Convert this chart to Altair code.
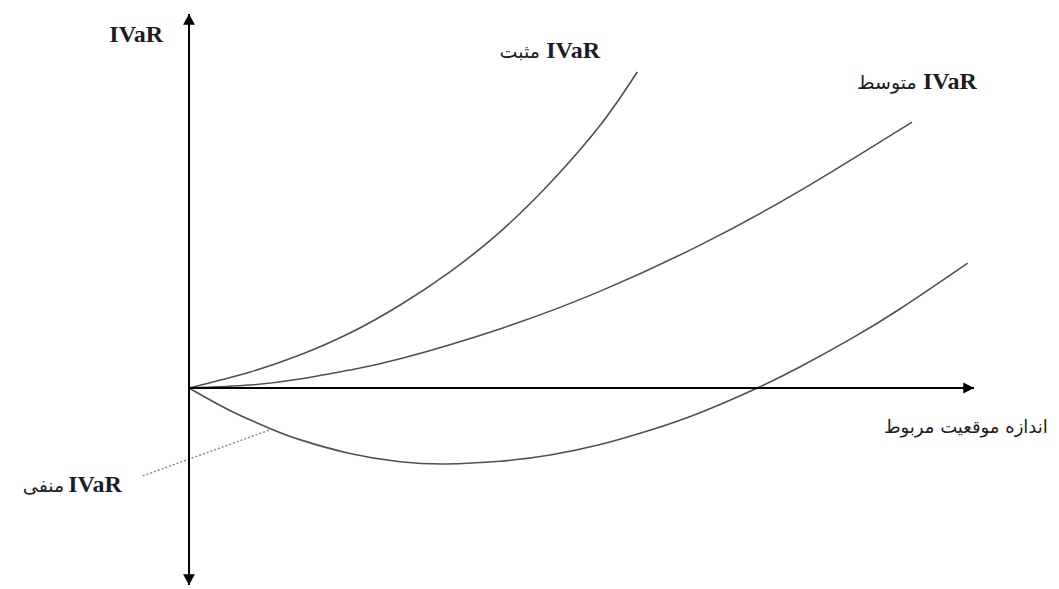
import altair as alt
import pandas as pd

# ---- curve data (x = relevant position size, y = IVaR) ----
pos_x = [0, 0.78, 1.41, 2.05, 2.69, 3.32, 3.96, 4.60, 5.24, 5.71]
pos_y = [0, 0.43, 0.88, 1.47, 2.22, 3.10, 4.17, 5.48, 7.03, 8.45]

avg_x = [0, 0.78, 1.41, 2.05, 2.69, 3.96, 5.24, 6.51, 7.78, 9.21]
avg_y = [0, 0.08, 0.24, 0.48, 0.78, 1.58, 2.59, 3.82, 5.27, 7.11]

neg_x = [0, 0.52, 1.03, 1.41, 2.05, 2.69, 3.26, 3.96, 4.60, 5.24, 5.87, 6.51, 7.24, 7.78, 8.42, 9.06, 9.92]
neg_y = [0, -0.60, -1.08, -1.38, -1.75, -1.97, -2.03, -1.96, -1.79, -1.51, -1.13, -0.66, 0, 0.56, 1.30, 2.12, 3.34]

# leader (dotted) line for the negative label
lead_x = [-0.59, 1.03]
lead_y = [-2.35, -1.12]

# labels
bold_word = "IVaR"
pos_word = "مثبت"
avg_word = "متوسط"
neg_word = "منفی"
x_title = "اندازه موقعیت مربوط"

X_DOMAIN = [-2.306, 10.981]
Y_DOMAIN = [-5.374, 10.160]
xs = alt.Scale(domain=X_DOMAIN, nice=False, zero=False)
ys = alt.Scale(domain=Y_DOMAIN, nice=False, zero=False)

def X(f="x"):
    return alt.X(f"{f}:Q", scale=xs, axis=None)

def Y(f="y"):
    return alt.Y(f"{f}:Q", scale=ys, axis=None)

curves = pd.concat([
    pd.DataFrame({"x": pos_x, "y": pos_y, "series": "pos"}),
    pd.DataFrame({"x": avg_x, "y": avg_y, "series": "avg"}),
    pd.DataFrame({"x": neg_x, "y": neg_y, "series": "neg"}),
])

curve_layer = alt.Chart(curves).mark_line(
    interpolate="natural", color="#505050", strokeWidth=1.6
).encode(x=X(), y=Y(), detail="series:N")

axes_df = pd.DataFrame({
    "x": [0, 0], "x2": [0, 10],
    "y": [-5.27, 0], "y2": [10, 0],
})
axes_layer = alt.Chart(axes_df).mark_rule(color="black", strokeWidth=2).encode(
    x=X(), x2="x2:Q", y=Y(), y2="y2:Q"
)

arrow_df = pd.DataFrame({
    "dir": ["up", "down", "right"],
    "x": [0, 0, 9.93],
    "y": [9.85, -5.12, 0],
})
arrow_layer = alt.Chart(arrow_df).mark_point(filled=True, opacity=1, color="black", size=196).encode(
    x=X(), y=Y(),
    shape=alt.Shape("dir:N", legend=None, scale=alt.Scale(
        domain=["up", "down", "right"],
        range=["M0,-0.8L0.85,0.75L-0.85,0.75Z",
               "M0,0.8L0.85,-0.75L-0.85,-0.75Z",
               "M0.8,0L-0.75,0.8L-0.75,-0.8Z"])),
)

lead_layer = alt.Chart(pd.DataFrame({"x": lead_x, "y": lead_y})).mark_line(
    color="#8a8a8a", strokeWidth=1.5, strokeDash=[2, 2]
).encode(x=X(), y=Y())

FONT_B = "Liberation Serif"
FONT_A = "DejaVu Sans"
TXT = "#1c1c28"

top_lbl = alt.Chart(pd.DataFrame({"x": [-0.33], "y": [9.25], "t": [bold_word]})).mark_text(
    align="right", baseline="alphabetic", font=FONT_B, fontWeight="bold", fontSize=24, color=TXT
).encode(x=X(), y=Y(), text="t:N")

bold_lbl = alt.Chart(pd.DataFrame({
    "x": [4.55, 9.35, -1.54], "y": [8.82, 7.99, -2.78], "t": [bold_word] * 3
})).mark_text(
    align="left", baseline="alphabetic", font=FONT_B, fontWeight="bold", fontSize=24, color=TXT
).encode(x=X(), y=Y(), text="t:N")

ar_lbl = alt.Chart(pd.DataFrame({
    "x": [4.47, 9.27, -1.59], "y": [8.82, 7.99, -2.78], "t": [pos_word, avg_word, neg_word]
})).mark_text(
    align="right", baseline="alphabetic", font=FONT_A, fontSize=19, color=TXT
).encode(x=X(), y=Y(), text="t:N")

xt_lbl = alt.Chart(pd.DataFrame({"x": [10.94], "y": [-1.20], "t": [x_title]})).mark_text(
    align="right", baseline="alphabetic", font=FONT_A, fontSize=18, color=TXT
).encode(x=X(), y=Y(), text="t:N")

chart = alt.layer(
    curve_layer, lead_layer, axes_layer, arrow_layer, top_lbl, bold_lbl, ar_lbl, xt_lbl
).properties(
    width=1043, height=581, padding=0, autosize=alt.AutoSizeParams(type="none"),
    background="white"
).configure_view(stroke=None)

chart.save("out.html", embed_options={"renderer": "svg", "actions": False})
